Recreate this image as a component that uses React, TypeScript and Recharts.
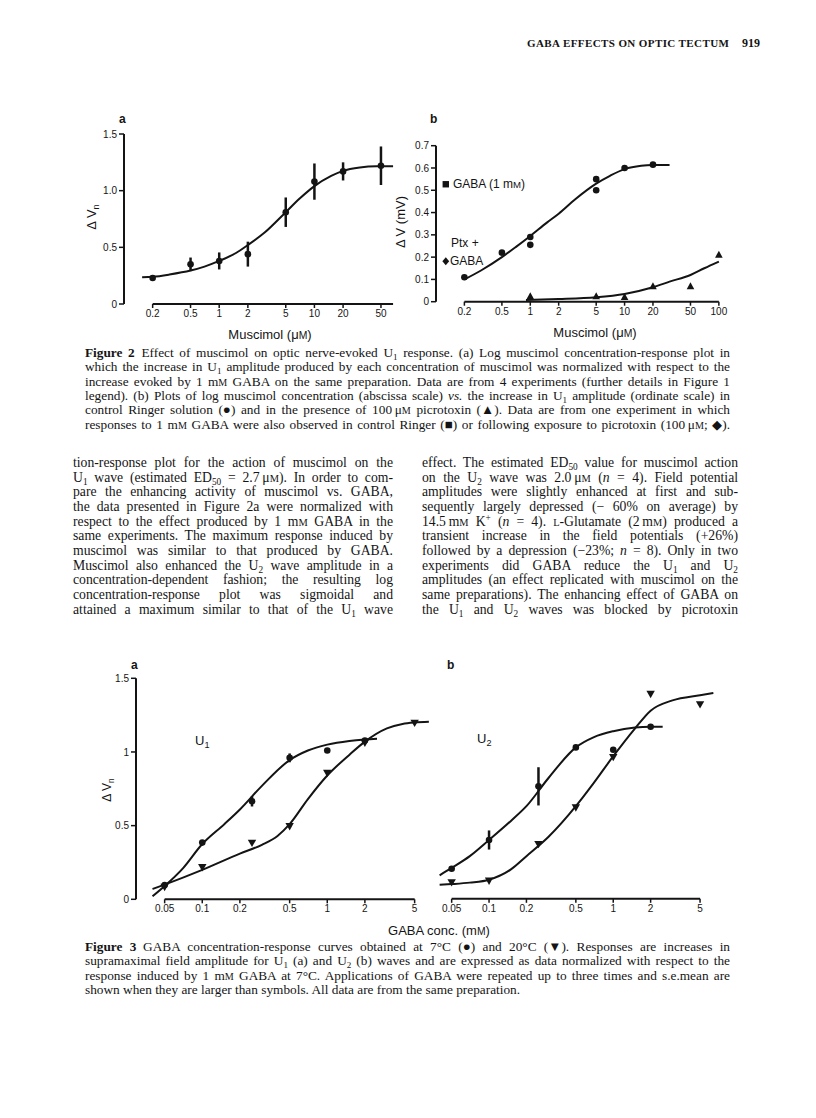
import React from 'react';
import { ComposedChart, Line, Scatter, XAxis, YAxis, ErrorBar, ReferenceLine } from 'recharts';

const SANS = '"Liberation Sans", Arial, Helvetica, sans-serif';
const SERIF = '"Liberation Serif", "Times New Roman", serif';
const INK = '#141414';

// ---------- Figure 2a : muscimol, normalized ----------
const fig2aTicks = [0.2, 0.5, 1, 2, 5, 10, 20, 50];
const fig2aYTicks = [0, 0.5, 1, 1.5];
const m2aConc = [0.2, 0.5, 1, 2, 5, 10, 20, 50];
const m2aResp = [0.23, 0.35, 0.38, 0.44, 0.81, 1.08, 1.17, 1.22];
const m2aSem = [0, 0.06, 0.075, 0.11, 0.13, 0.16, 0.08, 0.17];
const m2aFitConc = [0.155, 0.2, 0.3, 0.5, 0.7, 1, 1.5, 2, 3, 5, 7, 10, 15, 20, 30, 45, 67];
const m2aFitResp = [0.235, 0.24, 0.26, 0.295, 0.33, 0.38, 0.45, 0.52, 0.63, 0.81, 0.93, 1.04, 1.13, 1.175, 1.205, 1.215, 1.215];

// ---------- Figure 2b : muscimol, mV ----------
const fig2bTicks = [0.2, 0.5, 1, 2, 5, 10, 20, 50, 100];
const fig2bYTicks = [0, 0.1, 0.2, 0.3, 0.4, 0.5, 0.6, 0.7];
const m2bCtrlConc = [0.2, 0.5, 1, 1, 5, 5, 10, 20];
const m2bCtrl = [0.11, 0.22, 0.29, 0.255, 0.55, 0.5, 0.6, 0.615];
const m2bPtxConc = [1, 5, 10, 20, 50, 100];
const m2bPtx = [0.025, 0.025, 0.022, 0.07, 0.07, 0.212];
const m2bCtrlFitConc = [0.2, 0.3, 0.5, 0.7, 1, 1.5, 2, 3, 5, 7, 10, 15, 20, 30];
const m2bCtrlFit = [0.1, 0.14, 0.2, 0.245, 0.295, 0.355, 0.395, 0.46, 0.53, 0.565, 0.595, 0.61, 0.613, 0.613];
const m2bPtxFitConc = [0.9, 2, 5, 10, 20, 30, 50, 70, 100];
const m2bPtxFit = [0.008, 0.012, 0.02, 0.035, 0.065, 0.09, 0.12, 0.15, 0.18];
const gabaRefConc = [0.127];
const gabaRefCtrl = [0.527];
const gabaRefPtx = [0.182];

// ---------- Figure 3 : GABA, 7 C vs 20 C ----------
const fig3Ticks = [0.05, 0.1, 0.2, 0.5, 1, 2, 5];
const fig3YTicks = [0, 0.5, 1, 1.5];
const gabaConcCold = [0.05, 0.1, 0.25, 0.5, 1, 2];
const gabaConcWarm = [0.05, 0.1, 0.25, 0.5, 1, 2, 5];
const u1Cold = [0.097, 0.385, 0.665, 0.96, 1.01, 1.077];
const u1ColdSem = [0, 0, 0.035, 0.03, 0, 0];
const u1Warm = [0.081, 0.215, 0.38, 0.493, 0.855, 1.06, 1.195];
const u1ColdFitConc = [0.04, 0.05, 0.07, 0.1, 0.15, 0.2, 0.3, 0.5, 0.7, 1, 1.5, 2, 2.5];
const u1ColdFit = [0.02, 0.09, 0.21, 0.375, 0.51, 0.61, 0.77, 0.945, 1.01, 1.05, 1.075, 1.085, 1.09];
const u1WarmFitConc = [0.04, 0.05, 0.1, 0.2, 0.3, 0.4, 0.5, 0.7, 1, 1.5, 2, 3, 4, 5, 6.5];
const u1WarmFit = [0.07, 0.1, 0.2, 0.31, 0.37, 0.43, 0.51, 0.68, 0.84, 0.98, 1.07, 1.16, 1.19, 1.2, 1.205];
const u2Cold = [0.204, 0.4, 0.765, 1.03, 1.014, 1.17];
const u2ColdSem = [0, 0.065, 0.13, 0, 0, 0];
const u2Warm = [0.109, 0.12, 0.369, 0.618, 0.961, 1.39, 1.32];
const u2ColdFitConc = [0.04, 0.05, 0.07, 0.1, 0.15, 0.2, 0.3, 0.5, 0.7, 1, 1.5, 2, 2.5];
const u2ColdFit = [0.16, 0.21, 0.29, 0.4, 0.53, 0.63, 0.82, 1.03, 1.1, 1.14, 1.165, 1.17, 1.17];
const u2WarmFitConc = [0.04, 0.05, 0.07, 0.1, 0.15, 0.2, 0.3, 0.5, 0.7, 1, 1.5, 2, 3, 5, 6.4];
const u2WarmFit = [0.095, 0.1, 0.11, 0.13, 0.2, 0.29, 0.42, 0.63, 0.79, 0.97, 1.16, 1.28, 1.35, 1.385, 1.4];

// ---------- Page text ----------
const headerTitle = 'GABA EFFECTS ON OPTIC TECTUM';
const pageNumber = '919';
const fig2Caption = [
  '**Figure 2**\u2002Effect of muscimol on optic nerve-evoked U_{1} response. (a) Log muscimol concentration-response plot in',
  'which the increase in U_{1} amplitude produced by each concentration of muscimol was normalized with respect to the',
  'increase evoked by 1 m~{M} GABA on the same preparation. Data are from 4 experiments (further details in Figure 1',
  'legend). (b) Plots of log muscimol concentration (abscissa scale) *vs.* the increase in U_{1} amplitude (ordinate scale) in',
  'control Ringer solution (\u25CF) and in the presence of 100\u2009\u03BC~{M} picrotoxin (\u25B2). Data are from one experiment in which',
  'responses to 1 m~{M} GABA were also observed in control Ringer (\u25A0) or following exposure to picrotoxin (100\u2009\u03BC~{M}; \u25C6).',
];
const bodyLeft = [
  'tion-response plot for the action of muscimol on the',
  'U_{1} wave (estimated ED_{50} = 2.7\u2009\u03BC~{M}). In order to com-',
  'pare the enhancing activity of muscimol vs. GABA,',
  'the data presented in Figure 2a were normalized with',
  'respect to the effect produced by 1 m~{M} GABA in the',
  'same experiments. The maximum response induced by',
  'muscimol was similar to that produced by GABA.',
  'Muscimol also enhanced the U_{2} wave amplitude in a',
  'concentration-dependent fashion; the resulting log',
  'concentration-response plot was sigmoidal and',
  'attained a maximum similar to that of the U_{1} wave',
];
const bodyRight = [
  'effect. The estimated ED_{50} value for muscimol action',
  'on the U_{2} wave was 2.0\u2009\u03BC~{M} (*n* = 4). Field potential',
  'amplitudes were slightly enhanced at first and sub-',
  'sequently largely depressed (\u2212 60% on average) by',
  '14.5\u2009m~{M} K^{+} (*n* = 4). ~{L}-Glutamate (2\u2009m~{M}) produced a',
  'transient increase in the field potentials (+26%)',
  'followed by a depression (\u221223%; *n* = 8). Only in two',
  'experiments did GABA reduce the U_{1} and U_{2}',
  'amplitudes (an effect replicated with muscimol on the',
  'same preparations). The enhancing effect of GABA on',
  'the U_{1} and U_{2} waves was blocked by picrotoxin',
];
const fig3Caption = [
  '**Figure 3**\u2002GABA concentration-response curves obtained at 7\u00B0C (\u25CF) and 20\u00B0C (\u25BC). Responses are increases in',
  'supramaximal field amplitude for U_{1} (a) and U_{2} (b) waves and are expressed as data normalized with respect to the',
  'response induced by 1 m~{M} GABA at 7\u00B0C. Applications of GABA were repeated up to three times and s.e.mean are',
  'shown when they are larger than symbols. All data are from the same preparation.',
];

// ---------- helpers ----------
const pts = (xs: number[], ys: number[], es?: number[]) =>
  xs.map((x, i) => ({ x, y: ys[i], e: es ? es[i] : 0 }));

const rich = (s: string) => {
  const parts = s.split(/(_\{[^}]*\}|\^\{[^}]*\}|~\{[^}]*\}|\*\*[^*]+\*\*|\*[^*]+\*)/);
  return parts.map((p, i) => {
    if (p.startsWith('_{')) return <span key={i} style={{ fontSize: '0.68em', verticalAlign: '-0.28em', lineHeight: 0 }}>{p.slice(2, -1)}</span>;
    if (p.startsWith('^{')) return <span key={i} style={{ fontSize: '0.68em', verticalAlign: '0.5em', lineHeight: 0 }}>{p.slice(2, -1)}</span>;
    if (p.startsWith('~{')) return <span key={i} style={{ fontSize: '0.76em' }}>{p.slice(2, -1)}</span>;
    if (p.startsWith('**')) return <b key={i}>{p.slice(2, -2)}</b>;
    if (p.startsWith('*') && p.length > 1) return <i key={i}>{p.slice(1, -1)}</i>;
    return <React.Fragment key={i}>{p}</React.Fragment>;
  });
};

const Txt = ({ x, y, size = 12, family = SANS, weight = 400, align = 'left', rotate = 0, spacing = 0, children }: any) => {
  const tx = align === 'center' ? '-50%' : align === 'right' ? '-100%' : '0%';
  return (
    <div
      style={{
        position: 'absolute', left: x, top: y,
        transform: `translate(${tx}, -50%)${rotate ? ` rotate(${rotate}deg)` : ''}`,
        fontSize: size, fontFamily: family, fontWeight: weight, lineHeight: 1,
        whiteSpace: 'nowrap', color: INK, letterSpacing: spacing,
      }}
    >
      {children}
    </div>
  );
};

// One typeset line; when justified, word spacing is measured so it fills width w exactly.
const JustLine = ({ x, y, w, size, lh, text, justify }: any) => {
  const ref = React.useRef<HTMLSpanElement>(null);
  const [ws, setWs] = React.useState(0);
  React.useLayoutEffect(() => {
    if (!justify || !ref.current) return;
    const natural = ref.current.getBoundingClientRect().width;
    const spaces = (text.replace(/ +/g, ' ').match(/ /g) || []).length;
    if (spaces > 0) setWs((w - natural) / spaces);
  }, [text, w, justify]);
  return (
    <div
      style={{
        position: 'absolute', left: x, top: y - lh / 2, height: lh, lineHeight: `${lh}px`,
        fontSize: size, fontFamily: SERIF, color: INK, whiteSpace: 'nowrap',
      }}
    >
      <span ref={ref} style={{ wordSpacing: ws }}>{rich(text)}</span>
    </div>
  );
};

const TextLines = ({ lines, x, y0, w, lh, size, justifyLast = true }: any) => (
  <>
    {lines.map((ln: string, i: number) => (
      <JustLine key={i} x={x} y={y0 + i * lh} w={w} lh={lh} size={size} text={ln}
        justify={justifyLast || i < lines.length - 1} />
    ))}
  </>
);

const dotShape = (p: any) => <circle cx={p.cx} cy={p.cy} r={3.3} fill={INK} />;
const downTri = (p: any) => (
  <polygon points={`${p.cx - 4.2},${p.cy - 3.6} ${p.cx + 4.2},${p.cy - 3.6} ${p.cx},${p.cy + 3.8}`} fill={INK} />
);
const upTri = (p: any) => (
  <polygon points={`${p.cx - 3.8},${p.cy + 3.2} ${p.cx + 3.8},${p.cy + 3.2} ${p.cx},${p.cy - 3.8}`} fill={INK} />
);
const squareShape = (p: any) => <rect x={p.cx - 3.2} y={p.cy - 3.2} width={6.4} height={6.4} fill={INK} />;
const diamondShape = (p: any) => (
  <polygon points={`${p.cx},${p.cy - 4} ${p.cx + 3.4},${p.cy} ${p.cx},${p.cy + 4} ${p.cx - 3.4},${p.cy}`} fill={INK} />
);

const tickStyle = { fill: INK, fontSize: 10, fontFamily: SANS };
const axisStroke = { stroke: INK, strokeWidth: 2 };
const tickStroke = { stroke: INK, strokeWidth: 1.5 };

const fitLine = (data: any[], key: string) => (
  <Line key={key} data={data} dataKey="y" type="monotone" stroke={INK} strokeWidth={2} dot={false} activeDot={false} isAnimationActive={false} />
);

const sub = (t: string) => <span style={{ fontSize: '0.7em', verticalAlign: '-0.3em' }}>{t}</span>;
const smallM = <span style={{ fontSize: '0.8em' }}>M</span>;

export default function App() {
  return (
    <div style={{ position: 'absolute', left: 0, top: 0, width: 816, height: 1118, background: '#fff', overflow: 'hidden' }}>
      {/* running header */}
      <Txt x={527} y={43} size={11} family={SERIF} weight={700} spacing={0.4}>{headerTitle}</Txt>
      <Txt x={742} y={43} size={12} family={SERIF} weight={700}>{pageNumber}</Txt>

      {/* ---------------- Figure 2a ---------------- */}
      <div style={{ position: 'absolute', left: 60, top: 100 }}>
        <ComposedChart width={360} height={240} margin={{ top: 34, right: 19.6, bottom: 6, left: 0 }}>
          <XAxis type="number" dataKey="x" scale="log" domain={[0.1, 80]} allowDataOverflow ticks={fig2aTicks} interval={0}
            axisLine={false} tickLine={tickStroke} tickSize={4} tick={tickStyle} height={30} />
          <YAxis type="number" dataKey="y" domain={[0, 1.5]} allowDataOverflow ticks={fig2aYTicks} interval={0} width={64}
            axisLine={axisStroke} tickLine={tickStroke} tickSize={5} tick={tickStyle}
            tickFormatter={(v: number) => (v === 0 ? '0' : v.toFixed(1))} />
          <ReferenceLine segment={[{ x: 0.2, y: 0 }, { x: 67, y: 0 }]} stroke={INK} strokeWidth={2} ifOverflow="visible" />
          {fitLine(pts(m2aFitConc, m2aFitResp), 'fit2a')}
          <Scatter data={pts(m2aConc, m2aResp, m2aSem)} dataKey="y" shape={dotShape} isAnimationActive={false}>
            <ErrorBar dataKey="e" direction="y" width={0} stroke={INK} strokeWidth={2.5} />
          </Scatter>
        </ComposedChart>
      </div>
      <Txt x={119} y={119} size={12} weight={700}>a</Txt>
      <Txt x={93} y={217} size={13} align="center" rotate={-90}>{'\u0394 V'}{sub('n')}</Txt>
      <Txt x={270} y={335} size={13} align="center">Muscimol ({'\u03BC'}{smallM})</Txt>

      {/* ---------------- Figure 2b ---------------- */}
      <div style={{ position: 'absolute', left: 380, top: 100 }}>
        <ComposedChart width={360} height={240} margin={{ top: 45.7, right: 12, bottom: 8.3, left: 0 }}>
          <XAxis type="number" dataKey="x" scale="log" domain={[0.1, 125]} allowDataOverflow ticks={fig2bTicks} interval={0}
            axisLine={false} tickLine={tickStroke} tickSize={4} tick={tickStyle} height={30} />
          <YAxis type="number" dataKey="y" domain={[0, 0.7]} allowDataOverflow ticks={fig2bYTicks} interval={0} width={56}
            axisLine={axisStroke} tickLine={tickStroke} tickSize={5} tick={tickStyle}
            tickFormatter={(v: number) => (v === 0 ? '0' : v.toFixed(1))} />
          <ReferenceLine segment={[{ x: 0.2, y: 0 }, { x: 100, y: 0 }]} stroke={INK} strokeWidth={2} ifOverflow="visible" />
          {fitLine(pts(m2bCtrlFitConc, m2bCtrlFit), 'fit2bc')}
          {fitLine(pts(m2bPtxFitConc, m2bPtxFit), 'fit2bp')}
          <Scatter data={pts(m2bCtrlConc, m2bCtrl)} dataKey="y" shape={dotShape} isAnimationActive={false} />
          <Scatter data={pts(m2bPtxConc, m2bPtx)} dataKey="y" shape={upTri} isAnimationActive={false} />
          <Scatter data={pts(gabaRefConc, gabaRefCtrl)} dataKey="y" shape={squareShape} isAnimationActive={false} />
          <Scatter data={pts(gabaRefConc, gabaRefPtx)} dataKey="y" shape={diamondShape} isAnimationActive={false} />
        </ComposedChart>
      </div>
      <Txt x={430} y={119} size={12} weight={700}>b</Txt>
      <Txt x={400} y={222} size={13} align="center" rotate={-90}>{'\u0394 V (mV)'}</Txt>
      <Txt x={595} y={333} size={13} align="center">Muscimol ({'\u03BC'}{smallM})</Txt>
      <Txt x={453} y={184} size={12}>GABA (1 m{smallM})</Txt>
      <Txt x={451} y={243} size={12}>Ptx +</Txt>
      <Txt x={450} y={261} size={12}>GABA</Txt>

      {/* ---------------- Figure 2 caption ---------------- */}
      <TextLines lines={fig2Caption} x={85} y0={353} w={645} lh={14.4} size={13.3} justifyLast={true} />

      {/* ---------------- Body text ---------------- */}
      <TextLines lines={bodyLeft} x={73} y0={463.3} w={320} lh={14.67} size={13.7} />
      <TextLines lines={bodyRight} x={422} y0={463.3} w={316} lh={14.67} size={13.7} />

      {/* ---------------- Figure 3a ---------------- */}
      <div style={{ position: 'absolute', left: 70, top: 640 }}>
        <ComposedChart width={380} height={300} margin={{ top: 38.3, right: 17.1, bottom: 10.7, left: 0 }}>
          <XAxis type="number" dataKey="x" scale="log" domain={[0.0295, 7]} allowDataOverflow ticks={fig3Ticks} interval={0}
            axisLine={false} tickLine={tickStroke} tickSize={4} tick={tickStyle} height={30} />
          <YAxis type="number" dataKey="y" domain={[0, 1.5]} allowDataOverflow ticks={fig3YTicks} interval={0} width={66}
            axisLine={axisStroke} tickLine={tickStroke} tickSize={5} tick={tickStyle}
            tickFormatter={(v: number) => String(v)} />
          <ReferenceLine segment={[{ x: 0.05, y: 0 }, { x: 5, y: 0 }]} stroke={INK} strokeWidth={2} ifOverflow="visible" />
          {fitLine(pts(u1ColdFitConc, u1ColdFit), 'fit3ac')}
          {fitLine(pts(u1WarmFitConc, u1WarmFit), 'fit3aw')}
          <Scatter data={pts(gabaConcCold, u1Cold, u1ColdSem)} dataKey="y" shape={dotShape} isAnimationActive={false}>
            <ErrorBar dataKey="e" direction="y" width={0} stroke={INK} strokeWidth={2.5} />
          </Scatter>
          <Scatter data={pts(gabaConcWarm, u1Warm)} dataKey="y" shape={downTri} isAnimationActive={false} />
        </ComposedChart>
      </div>
      <Txt x={131} y={665} size={12} weight={700}>a</Txt>
      <Txt x={108} y={790} size={12} align="center" rotate={-90}>{'\u0394 V'}{sub('n')}</Txt>
      <Txt x={195} y={742} size={13}>U{sub('1')}</Txt>

      {/* ---------------- Figure 3b ---------------- */}
      <div style={{ position: 'absolute', left: 420, top: 640 }}>
        <ComposedChart width={310} height={300} margin={{ top: 38.3, right: 11.8, bottom: 11.2, left: 3.2 }}>
          <XAxis type="number" dataKey="x" scale="log" domain={[0.0295, 7]} allowDataOverflow ticks={fig3Ticks} interval={0}
            axisLine={false} tickLine={tickStroke} tickSize={4} tick={tickStyle} height={30} />
          <YAxis type="number" dataKey="y" domain={[0, 1.5]} allowDataOverflow hide />
          <ReferenceLine segment={[{ x: 0.05, y: 0 }, { x: 5, y: 0 }]} stroke={INK} strokeWidth={2} ifOverflow="visible" />
          {fitLine(pts(u2ColdFitConc, u2ColdFit), 'fit3bc')}
          {fitLine(pts(u2WarmFitConc, u2WarmFit), 'fit3bw')}
          <Scatter data={pts(gabaConcCold, u2Cold, u2ColdSem)} dataKey="y" shape={dotShape} isAnimationActive={false}>
            <ErrorBar dataKey="e" direction="y" width={0} stroke={INK} strokeWidth={2.5} />
          </Scatter>
          <Scatter data={pts(gabaConcWarm, u2Warm)} dataKey="y" shape={downTri} isAnimationActive={false} />
        </ComposedChart>
      </div>
      <Txt x={447} y={665} size={12} weight={700}>b</Txt>
      <Txt x={477} y={740} size={13}>U{sub('2')}</Txt>
      <Txt x={439} y={931} size={13} align="center">GABA conc. (m{smallM})</Txt>

      {/* ---------------- Figure 3 caption ---------------- */}
      <TextLines lines={fig3Caption} x={85} y0={947} w={645} lh={14.4} size={13.3} justifyLast={false} />
    </div>
  );
}
